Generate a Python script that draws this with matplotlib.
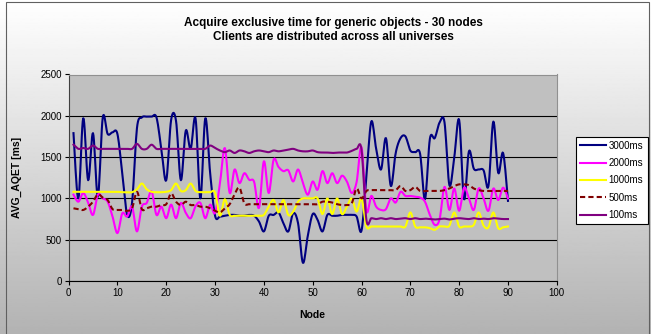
import matplotlib
matplotlib.use("Agg")
import matplotlib.pyplot as plt
import numpy as np
from matplotlib.patches import Rectangle

plt.rcParams['font.family'] = ['Liberation Sans', 'DejaVu Sans']

nodes = np.arange(1, 91)

ms3000 = [1790, 1000, 1970, 1220, 1790, 1020, 1980, 1780, 1800, 1780, 1300, 800, 950, 1850, 1980,
          1990, 1990, 1980, 1600, 1220, 1950, 1940, 1220, 1820, 1600, 1970, 1000, 1970, 1300, 790,
          780, 790, 800, 800, 790, 790, 800, 790, 720, 600, 790, 800, 830, 700, 600,
          820, 700, 220, 550, 810, 740, 600, 800, 790, 790, 800, 800, 800, 780, 610,
          1260, 1930, 1600, 1350, 1730, 1150, 1550, 1730, 1750, 1580, 1560, 1540, 990, 1720, 1730,
          1920, 1920, 1160, 1500, 1950, 990, 1570, 1360, 1350, 1340, 1150, 1930, 1310, 1550, 970]

ms2000 = [1045, 960, 1065, 950, 800, 1045, 1000, 960, 780, 580, 820, 780, 900, 600, 900,
          945, 1085, 800, 900, 760, 925, 760, 945, 825, 760, 905, 945, 760, 925, 825,
          1180, 1610, 1065, 1350, 1185, 1305, 1225, 1200, 885, 1450, 1065, 1470, 1380, 1330, 1340,
          1205, 1350, 1185, 1045, 1205, 1105, 1330, 1185, 1305, 1185, 1275, 1205, 1065, 1200, 1620,
          850, 1030, 900, 860, 870, 1000, 950, 1080, 1030, 1030, 1020, 1010, 960, 800, 680,
          750, 1140, 860, 1120, 850, 1130, 1000, 860, 1120, 1000, 850, 1120, 980, 1130, 1000]

ms1000 = [1080, 1080, 1080, 1080, 1080, 1080, 1080, 1080, 1080, 1080, 1075, 1075, 1075, 1110, 1180,
          1110, 1080, 1075, 1075, 1080, 1100, 1180, 1090, 1100, 1180, 1090, 1075, 1075, 1075, 1070,
          790, 990, 800, 790, 790, 790, 790, 790, 790, 800, 900, 980, 830, 980, 800,
          840, 960, 1000, 1000, 1000, 1000, 810, 1000, 810, 1000, 810, 900, 1000, 840, 1000,
          660, 660, 660, 660, 660, 660, 660, 660, 660, 830, 660, 650, 650, 640, 620,
          660, 660, 670, 830, 660, 660, 660, 680, 830, 670, 650, 830, 640, 650, 660]

ms500 = [880, 870, 860, 900, 960, 1050, 1010, 980, 870, 860, 860, 850, 880, 1080, 870,
         880, 900, 900, 920, 930, 1060, 960, 920, 960, 920, 920, 900, 900, 880, 850,
         830, 880, 930, 1050, 1130, 940, 930, 930, 930, 930, 930, 930, 930, 930, 930,
         930, 930, 930, 930, 930, 930, 960, 960, 950, 930, 920, 920, 940, 1120, 1000,
         1090, 1100, 1100, 1100, 1100, 1100, 1100, 1150, 1090, 1100, 1140, 1090, 1090, 1090, 1090,
         1090, 1100, 1120, 1150, 1170, 1170, 1160, 1120, 1100, 1090, 1090, 1090, 1090, 1090, 1090]

ms100 = [1650, 1600, 1610, 1600, 1640, 1600, 1600, 1600, 1600, 1600, 1600, 1600, 1600, 1660, 1600,
         1600, 1650, 1600, 1600, 1600, 1600, 1600, 1600, 1600, 1600, 1600, 1600, 1600, 1640, 1610,
         1580, 1560, 1580, 1550, 1580, 1570, 1550, 1570, 1580, 1570, 1560, 1580, 1570, 1580, 1590,
         1600, 1580, 1570, 1570, 1580, 1560, 1555, 1555, 1550, 1555, 1555, 1555, 1575, 1600, 1590,
         740, 760, 750, 760, 750, 760, 750, 755, 760, 750, 760, 750, 755, 750, 745,
         750, 755, 745, 755, 760, 755, 750, 760, 750, 755, 750, 760, 755, 750, 750]

labels = ["3000ms", "2000ms", "1000ms", "500ms", "100ms"]
colors = ["#000080", "#FF00FF", "#FFFF00", "#800000", "#800080"]
styles = ["-", "-", "-", (0, (2.5, 1.5)), "-"]


# excel-like smoothed line (bezier through each point)
def smooth(x, y, n=10):
    x = np.asarray(x, float)
    y = np.asarray(y, float)
    xp = np.concatenate([[x[0]], x, [x[-1]]])
    yp = np.concatenate([[y[0]], y, [y[-1]]])
    t = np.linspace(0, 1, n, endpoint=False)
    sx, sy = [], []
    for i in range(len(x) - 1):
        p0 = np.array([xp[i], yp[i]])
        p1 = np.array([xp[i + 1], yp[i + 1]])
        p2 = np.array([xp[i + 2], yp[i + 2]])
        p3 = np.array([xp[i + 3], yp[i + 3]])
        c1 = p1 + (p2 - p0) / 6
        c2 = p2 - (p3 - p1) / 6
        b = ((1 - t) ** 3)[:, None] * p1 + (3 * (1 - t) ** 2 * t)[:, None] * c1 \
            + (3 * (1 - t) * t ** 2)[:, None] * c2 + (t ** 3)[:, None] * p2
        sx.extend(b[:, 0])
        sy.extend(b[:, 1])
    sx.append(x[-1])
    sy.append(y[-1])
    return sx, sy


fig = plt.figure(figsize=(6.51, 3.34), dpi=100)

# background gradient
bg = fig.add_axes([0, 0, 1, 1], zorder=-5)
grad = np.linspace(1.0, 0.70, 256)[:, None]
bg.imshow(grad, aspect='auto', cmap='gray', vmin=0, vmax=1, extent=[0, 1, 0, 1])
bg.set_axis_off()
fig.patches.append(Rectangle((6 / 651, -0.01), 643 / 651, 1 - 2 / 334 + 0.01,
                             transform=fig.transFigure, fill=False,
                             edgecolor='#606060', linewidth=0.8))

ax = fig.add_axes([68.6 / 651, 1 - 281 / 334, 488.2 / 651, 206.5 / 334])
ax.set_facecolor('#C0C0C0')

series = [ms3000, ms2000, ms1000, ms500, ms100]
for vals, lab, col, ls in zip(series, labels, colors, styles):
    sx, sy = smooth(nodes, vals)
    ax.plot(sx, sy, color=col, linestyle=ls, linewidth=1.5, label=lab)

ax.set_xlim(0, 100)
ax.set_ylim(0, 2500)
ax.set_xticks(np.arange(0, 101, 10))
ax.set_yticks(np.arange(0, 2501, 500))
ax.yaxis.grid(True, color='black', linewidth=0.8)
ax.set_axisbelow(True)
ax.tick_params(labelsize=7, length=3, width=0.8, color='black', pad=2)
for s in ['top', 'right']:
    ax.spines[s].set_color('#909090')
ax.spines['left'].set_color('#404040')
ax.spines['bottom'].set_color('black')

ax.set_xlabel("Node", fontsize=7.5, fontweight='bold')
ax.xaxis.set_label_coords(0.5, -0.14)
ax.set_ylabel("AVG_AQET [ms]", fontsize=7.5, fontweight='bold')
ax.yaxis.set_label_coords(-0.095, 0.5)

fig.text(0.512, 0.91, "Acquire exclusive time for generic objects - 30 nodes\nClients are distributed across all universes",
         ha='center', va='center', fontsize=8.5, fontweight='bold', linespacing=1.3)

leg = fig.legend(loc='upper left', bbox_to_anchor=(576 / 651, 1 - 136.5 / 334),
                 fontsize=7, frameon=True, fancybox=False, framealpha=1,
                 edgecolor='black', labelspacing=0.75, handlelength=2.6,
                 handletextpad=0.3, borderpad=0.45, borderaxespad=0)
leg.get_frame().set_linewidth(0.8)

fig.savefig("out.png", dpi=100)
